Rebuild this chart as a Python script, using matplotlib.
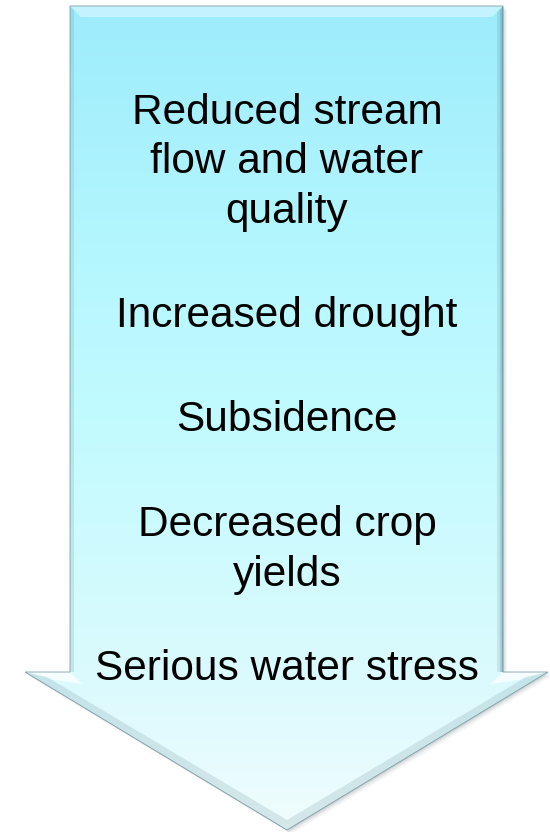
import numpy as np
import matplotlib
matplotlib.use("Agg")
import matplotlib.pyplot as plt
from matplotlib.patches import Polygon
from matplotlib.colors import LinearSegmentedColormap

# text items inside the arrow, top to bottom
ITEMS = [
    "Reduced stream\nflow and water\nquality",
    "Increased drought",
    "Subsidence",
    "Decreased crop\nyields",
    "Serious water stress",
]
# baseline of the last line of each item (px from top)
ITEM_BASELINE = [223, 327, 431, 586, 680]

# fill gradient stops, top of arrow -> tip
GRAD_POS = [0.0, 0.31, 0.52, 0.84, 1.0]
GRAD_COLORS = ["#9decfc", "#b5f7fe", "#c3fbff", "#ddfafd", "#f0fdfe"]
EDGE_COLOR = "#7f9ea8"

W, H = 550, 832
fig = plt.figure(figsize=(W / 100, H / 100), dpi=100)
ax = fig.add_axes([0, 0, 1, 1])
ax.set_xlim(0, W)
ax.set_ylim(H, 0)
ax.set_axis_off()

# arrow outline: shaft + head
shaft_l, shaft_r, top = 70, 503, 6
head_y, head_l, head_r = 672, 25, 548
tip_x, tip_y = 287, 830
cx = tip_x
verts = [(shaft_l, top), (shaft_r, top), (shaft_r, head_y), (head_r, head_y),
         (tip_x, tip_y), (head_l, head_y), (shaft_l, head_y)]

# soft drop shadow
for off, a in [(4, 0.10), (2.5, 0.15), (1.2, 0.25)]:
    ax.add_patch(Polygon([(x + off, y + off) for x, y in verts], closed=True,
                         fc="#8c9a9e", ec="none", alpha=a, zorder=0))

cmap = LinearSegmentedColormap.from_list("arrow", list(zip(GRAD_POS, GRAD_COLORS)))
grad = np.linspace(0, 1, 256).reshape(-1, 1)
img = ax.imshow(grad, cmap=cmap, extent=[0, W, tip_y, top], aspect="auto",
                interpolation="bicubic", zorder=1)
arrow = Polygon(verts, closed=True, fc="none", ec=EDGE_COLOR, lw=0.6, zorder=3)
ax.add_patch(arrow)
img.set_clip_path(arrow)

# bevel: light strip along the top edge
ax.add_patch(Polygon([(shaft_l, top), (shaft_r, top), (shaft_r - 11, top + 11),
                      (shaft_l + 11, top + 11)], closed=True, fc="white",
                     ec="none", alpha=0.4, zorder=2))
# bevel: darker strip down the right side of the shaft
for w, a in [(6, 0.12), (3.5, 0.18), (1.5, 0.3)]:
    ax.add_patch(Polygon([(shaft_r, top), (shaft_r, head_y), (shaft_r - w, head_y),
                          (shaft_r - w, top + w)], closed=True, fc="#2f5865",
                         ec="none", alpha=a, zorder=2))
# bevel: slight darker strip down the left side of the shaft
ax.add_patch(Polygon([(shaft_l, top), (shaft_l + 4, top + 4), (shaft_l + 4, head_y),
                      (shaft_l, head_y)], closed=True, fc="#6e9aa6", ec="none",
                     alpha=0.2, zorder=2))
# bevel: light ledges on the arrow head shoulders
ax.add_patch(Polygon([(head_l, head_y), (shaft_l, head_y), (shaft_l + 12, head_y + 12),
                      (head_l + 30, head_y + 8)], closed=True, fc="white", ec="none",
                     alpha=0.75, zorder=2))
ax.add_patch(Polygon([(shaft_r, head_y), (head_r, head_y), (head_r - 30, head_y + 8),
                      (shaft_r - 12, head_y + 12)], closed=True, fc="white",
                     ec="none", alpha=0.75, zorder=2))
# bevel: shading along the lower diagonal edges of the head
ax.add_patch(Polygon([(head_l, head_y), (tip_x, tip_y), (tip_x, tip_y - 10),
                      (head_l + 22, head_y + 5)], closed=True, fc="#5f8591",
                     ec="none", alpha=0.18, zorder=2))
ax.add_patch(Polygon([(head_r, head_y), (tip_x, tip_y), (tip_x, tip_y - 10),
                      (head_r - 22, head_y + 5)], closed=True, fc="#5f8591",
                     ec="none", alpha=0.18, zorder=2))

for txt, y in zip(ITEMS, ITEM_BASELINE):
    ax.text(cx, y, txt, ha="center", va="baseline", fontsize=30.5,
            family="Liberation Sans", color="black", linespacing=1.31, zorder=4)

fig.savefig("out.png", dpi=100, facecolor="white")
